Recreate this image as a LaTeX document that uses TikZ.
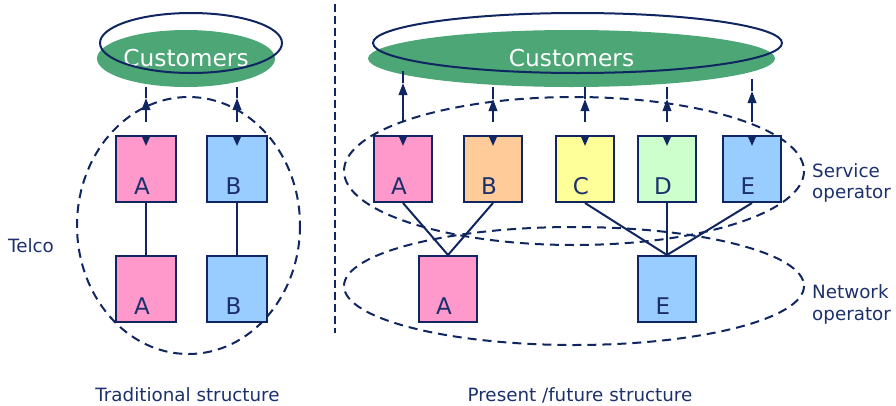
\documentclass[tikz,border=0pt]{standalone}
\usepackage{fontspec}
\setmainfont{DejaVu Sans}
\usetikzlibrary{shapes.geometric,arrows.meta}
\definecolor{navy}{RGB}{16,38,96}
\definecolor{txtnavy}{RGB}{28,48,108}
\definecolor{custgreen}{RGB}{76,166,118}
\definecolor{cpink}{RGB}{255,153,204}
\definecolor{corange}{RGB}{255,204,153}
\definecolor{cyellow}{RGB}{255,255,153}
\definecolor{clgreen}{RGB}{204,255,204}
\definecolor{cblue}{RGB}{153,204,255}
\begin{document}
\begin{tikzpicture}[x=1pt,y=-1pt,
  custblob/.style={ellipse,fill=custgreen,inner sep=0pt,text=white,font=\fontsize{23.3}{28}\selectfont},
  custring/.style={draw=navy,line width=2pt},
  opbox/.style={draw=navy,line width=2pt,inner sep=0pt,minimum height=66pt},
  narrowbox/.style={opbox,minimum width=58pt},
  widebox/.style={opbox,minimum width=60pt},
  letter/.style={anchor=base,text=txtnavy,inner sep=0pt,font=\fontsize{23}{27}\selectfont},
  link/.style={draw=navy,line width=2pt},
  uptip/.style={link,-{Triangle[length=12pt,width=8.5pt]}},
  downtip/.style={link,-{Triangle[length=11pt,width=9pt]}},
  group/.style={draw=navy,line width=2pt,dash pattern=on 9pt off 6pt},
  divider/.style={draw=navy,line width=2pt,dash pattern=on 8pt off 4pt},
  lbl/.style={text=txtnavy,inner sep=0pt,font=\fontsize{18.3}{21.5}\selectfont}
]
\useasboundingbox (0,0) rectangle (896,405);

% ---------- left: traditional ----------
\node[custblob,minimum width=178pt,minimum height=57pt] (custL) at (186,58.5) {Customers};
\draw[custring] (191,43) ellipse [x radius=91, y radius=30];

\draw[group] (188.5,225.5) ellipse [x radius=111.5, y radius=128.5];

\node[widebox,fill=cpink] (lA1) at (146,169) {};
\node[widebox,fill=cblue] (lB1) at (237,169) {};
\node[widebox,fill=cpink] (lA2) at (146,289) {};
\node[widebox,fill=cblue] (lB2) at (237,289) {};
\node[letter] (tlA1) at (142,194) {A};
\node[letter] (tlB1) at (233.5,194) {B};
\node[letter] (tlA2) at (142,314) {A};
\node[letter] (tlB2) at (233.5,314) {B};
\draw[link] (lA1.south) -- (lA2.north);
\draw[link] (lB1.south) -- (lB2.north);

\coordinate (ltA) at (146,87);  \coordinate (laA) at (146,98);  \coordinate (lbA) at (146,122);
\coordinate (ltB) at (237,87);  \coordinate (laB) at (237,98);  \coordinate (lbB) at (237,122);
\draw[uptip] (lbA) -- (laA); \draw[link] (laA) -- (ltA);
\draw[uptip] (lbB) -- (laB); \draw[link] (laB) -- (ltB);
\draw[downtip] (lA1.north) -- ++(0,11);
\draw[downtip] (lB1.north) -- ++(0,11);

\node[lbl,anchor=base west] (telco) at (8,252) {Telco};
\node[lbl,anchor=base] (trad) at (187.5,401) {Traditional structure};

% ---------- divider ----------
\coordinate (dvt) at (335,4);
\coordinate (dvb) at (335,333);
\draw[divider] (dvt) -- (dvb);

% ---------- right: present/future ----------
\node[custblob,minimum width=407pt,minimum height=57pt] (custR) at (571.5,58.5) {Customers};
\draw[custring] (577.5,43) ellipse [x radius=204.5, y radius=30];

\draw[group] (574,171) ellipse [x radius=230, y radius=74];
\draw[group] (574,286) ellipse [x radius=230, y radius=59];

\node[narrowbox,fill=cpink]   (rA) at (403,169) {};
\node[narrowbox,fill=corange] (rB) at (493,169) {};
\node[narrowbox,fill=cyellow] (rC) at (585,169) {};
\node[narrowbox,fill=clgreen] (rD) at (667,169) {};
\node[narrowbox,fill=cblue]   (rE) at (752,169) {};
\node[narrowbox,fill=cpink]   (nA) at (448,289) {};
\node[narrowbox,fill=cblue]   (nE) at (667,289) {};
\node[letter] (trA) at (399,194) {A};
\node[letter] (trB) at (489,194) {B};
\node[letter] (trC) at (581,194) {C};
\node[letter] (trD) at (663,194) {D};
\node[letter] (trE) at (748,194) {E};
\node[letter] (tnA) at (444,314) {A};
\node[letter] (tnE) at (663,314) {E};

\draw[link] (rA.south) -- (nA.north);
\draw[link] (rB.south) -- (nA.north);
\draw[link] (rC.south) -- (nE.north);
\draw[link] (rD.south) -- (nE.north);
\draw[link] (rE.south) -- (nE.north);

\coordinate (rtA) at (403,71); \coordinate (raA) at (403,83); \coordinate (rbA) at (403,122);
\coordinate (rtB) at (493,87); \coordinate (raB) at (493,99); \coordinate (rbB) at (493,122);
\coordinate (rtC) at (585,87); \coordinate (raC) at (585,99); \coordinate (rbC) at (585,122);
\coordinate (rtD) at (667,87); \coordinate (raD) at (667,99); \coordinate (rbD) at (667,122);
\coordinate (rtE) at (752,79); \coordinate (raE) at (752,91); \coordinate (rbE) at (752,122);
\foreach \k in {A,B,C,D,E}{
  \draw[uptip] (rb\k) -- (ra\k);
  \draw[link] (ra\k) -- (rt\k);
  \draw[downtip] (r\k.north) -- ++(0,11);
}

\node[lbl,anchor=base west] (svc) at (812,177) {\begin{tabular}[t]{@{}l@{}}Service\\operator\end{tabular}};
\node[lbl,anchor=base west] (net) at (812,298) {\fontsize{18.3}{22}\selectfont\begin{tabular}[t]{@{}l@{}}Network\\operator\end{tabular}};
\node[lbl,anchor=base] (pres) at (580,401) {Present /future structure};
\end{tikzpicture}
\end{document}
